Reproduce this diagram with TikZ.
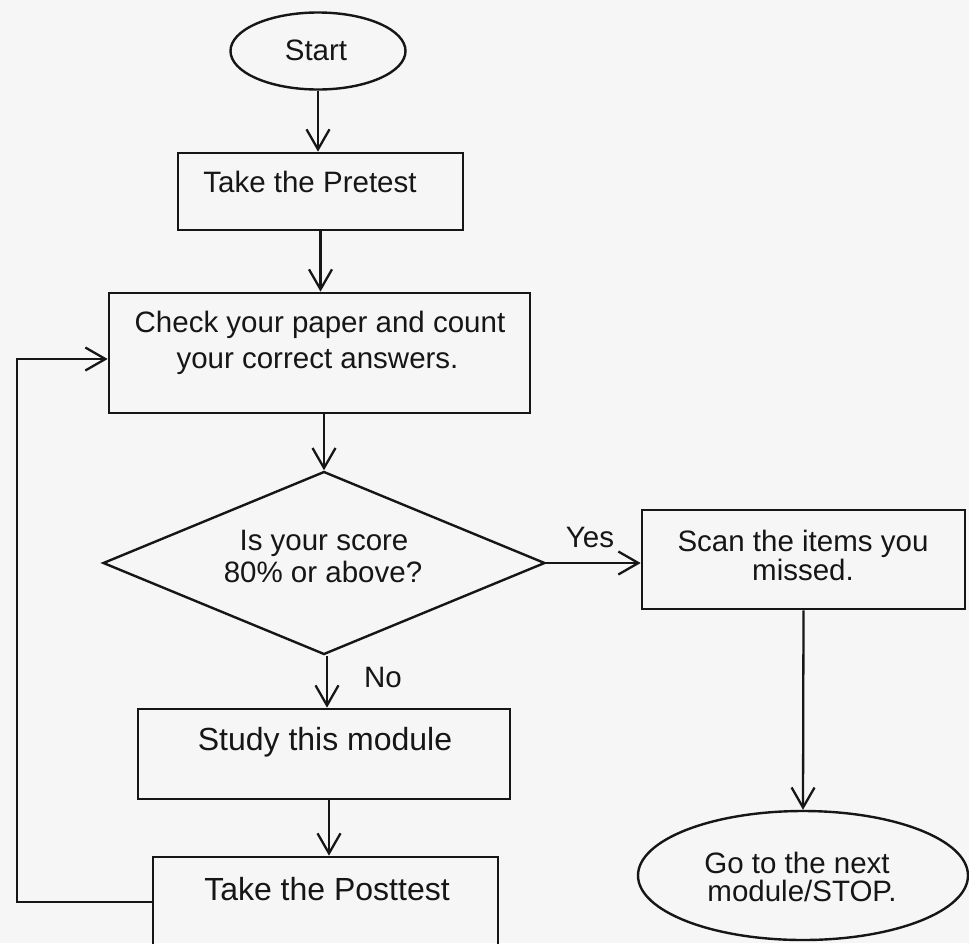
\documentclass[tikz,border=0pt]{standalone}
\usepackage{fontspec}
\setmainfont{Liberation Sans}
\usetikzlibrary{shapes.geometric,arrows.meta}
\definecolor{bg}{RGB}{246,246,246}
\definecolor{ink}{RGB}{22,22,22}
\begin{document}
\begin{tikzpicture}[x=1pt,y=-1pt,
  box/.style={draw=ink,rectangle,inner sep=0pt,line width=2.7pt},
  oval/.style={draw=ink,ellipse,inner sep=0pt,line width=2.4pt},
  decision/.style={draw=ink,diamond,inner sep=0pt,line width=2.4pt},
  txt/.style={anchor=base,inner sep=0pt,text=ink,font=\fontsize{29.5}{35}\selectfont},
  bigtxt/.style={txt,font=\fontsize{32}{38}\selectfont},
  arr/.style={draw=ink,line width=2.3pt,-{Straight Barb[length=20pt,width=23pt]}}]
\fill[bg] (0,0) rectangle (969,943);
\useasboundingbox (0,0) rectangle (969,943);
\clip (0,0) rectangle (969,943);

\node[oval,minimum width=175pt,minimum height=77pt] (start) at (318,51) {};
\node[box,minimum width=285pt,minimum height=77pt] (pre) at (320.5,191.5) {};
\node[box,minimum width=421pt,minimum height=120pt] (chk) at (319.5,353) {};
\node[decision,minimum width=442pt,minimum height=183pt] (dia) at (324,563) {};
\node[box,minimum width=323pt,minimum height=99pt] (scan) at (803.5,559.5) {};
\node[box,minimum width=372pt,minimum height=90pt] (study) at (324,754) {};
\node[box,minimum width=345pt,minimum height=150pt] (post) at (325.5,932) {};
\node[oval,minimum width=330pt,minimum height=129pt] (go) at (803,875.5) {};

\node[txt] (tstart) at (316,60.5) {Start};
\node[txt] (tpre) at (310,192.5) {Take the Pretest};
\node[txt] (tchk1) at (320,332.5) {Check your paper and count};
\node[txt] (tchk2) at (317.5,368.5) {your correct answers.};
\node[txt] (tdia1) at (324,550.5) {Is your score};
\node[txt] (tdia2) at (323,582.5) {80\% or above?};
\node[txt] (tyes) at (590,547.5) {Yes};
\node[txt] (tscan1) at (803,551.5) {Scan the items you};
\node[txt] (tscan2) at (803,580.5) {missed.};
\node[txt] (tno) at (383,687.5) {No};
\node[bigtxt] (tstudy) at (325,750) {Study this module};
\node[bigtxt] (tpost) at (327,900) {Take the Posttest};
\node[txt] (tgo1) at (797,873.5) {Go to the next};
\node[txt] (tgo2) at (802,901) {module/STOP.};

\draw[arr] (start.south) -- (start.south |- pre.north);
\draw[arr] (pre.south) -- (pre.south |- chk.north);
\draw[arr] (dia.north |- chk.south) -- (dia.north);
\draw[arr] (dia.east) -- (dia.east -| scan.west);
\draw[arr] ([xshift=3pt]dia.south) -- ([xshift=3pt]dia.south |- study.north);
\draw[arr] ([xshift=5pt]study.south) -- ([xshift=5pt]study.south |- post.north);
\draw[arr] (scan.south) -- (go.north);
\coordinate (lb) at (17,902);
\coordinate (lt) at (17,359);
\draw[arr] (post.west |- lb) -- (lb) -- (lt) -- (lt -| chk.west);
\end{tikzpicture}
\end{document}
